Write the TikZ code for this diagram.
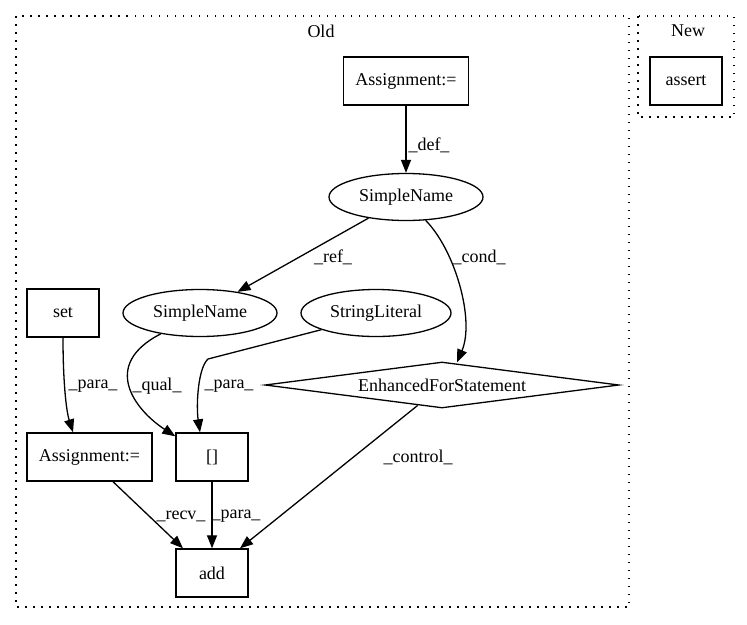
\documentclass[tikz,border=0pt]{standalone}
\usepackage{fontspec}
\setmainfont{Liberation Serif}
\usetikzlibrary{shapes.geometric,arrows.meta,calc}
\begin{document}
\begin{tikzpicture}[x=1pt,y=-1pt,
  every node/.style={font=\fontsize{18}{21}\selectfont},
  box/.style={draw,line width=1.4pt,minimum width=72pt,minimum height=48pt,inner sep=0pt},
  ell/.style={draw,ellipse,line width=1.3pt,minimum width=154pt,minimum height=47pt,inner sep=0pt},
  dia/.style={draw,diamond,aspect=7.7,line width=1.3pt,minimum width=354pt,minimum height=46pt,inner sep=0pt},
  edge/.style={-{Triangle[length=13pt,width=10pt]},line width=1.3pt},
  lbl/.style={inner sep=0pt},
  cluster/.style={line width=1.3pt,dash pattern=on 1.5pt off 6.5pt}
]
\useasboundingbox (0,0) rectangle (747,624);
% clusters
\draw[cluster] (16,16) rectangle (629,607);
\draw[cluster] (638,16) rectangle (734,117);
\node[lbl] (old) at (321,31) {Old};
\node[lbl] (new) at (688,31) {New};
% nodes
\node[box,minimum width=125pt] (a1) at (406,81) {Assignment:=};
\node[ell] (s1) at (406,197) {SimpleName};
\node[ell] (s2) at (200,313) {SimpleName};
\node[ell,minimum width=150pt] (sl) at (376,313) {StringLiteral};
\node[box] (set) at (63,313) {set};
\node[dia] (ef) at (442,385) {EnhancedForStatement};
\node[box,minimum width=125pt] (a2) at (89.5,457) {Assignment:=};
\node[box] (br) at (212,457) {[]};
\node[box] (add) at (212,573) {add};
\node[box] (as) at (686,81) {assert};
% edges
\draw[edge] (a1) -- (s1);
\draw[edge] (s1) -- (s2);
\draw[edge] (s1.-50) .. controls (455,250) and (475,320) .. ($(ef.north)+(15,1)$);
\draw[edge] (set.south) .. controls (63,380) and (66,410) .. ($(a2.north)+(-16.5,0)$);
\draw[edge] (s2.208) .. controls (100,365) and (135,410) .. ($(br.north west)+(0,4)$);
\draw[edge] (sl.197) -- (208,359) .. controls (198,368) and (196,405) .. ($(br.north)+(-12,0)$);
\draw[edge] ($(a2.south)+(23.5,0)$) -- ($(add.north)+(-29,0)$);
\draw[edge] (br) -- (add);
\draw[edge] (ef.220) -- ($(add.north)+(28,0)$);
% labels
\node[lbl] (l1) at (429,145) {\_def\_};
\node[lbl] (l2) at (333,257) {\_ref\_};
\node[lbl] (l3) at (479,257) {\_cond\_};
\node[lbl] (l4) at (93,386) {\_para\_};
\node[lbl] (l5) at (157,386) {\_qual\_};
\node[lbl] (l6) at (229,386) {\_para\_};
\node[lbl] (l7) at (181,516) {\_recv\_};
\node[lbl] (l8) at (236,516) {\_para\_};
\node[lbl] (l9) at (418,457) {\_control\_};
\end{tikzpicture}
\end{document}
